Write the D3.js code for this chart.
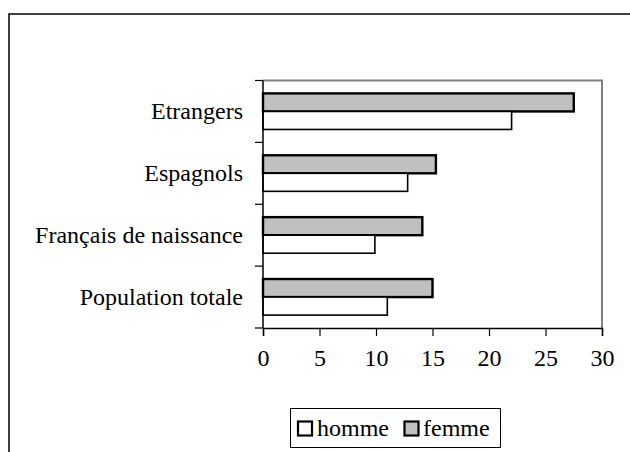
<!DOCTYPE html>
<html>
<head>
<meta charset="utf-8">
<script src="https://cdn.jsdelivr.net/npm/d3@7"></script>
<style>
  html, body { margin: 0; padding: 0; background: #fff; }
  svg { display: block; }
  text { font-family: "Liberation Serif", "Times New Roman", serif; fill: #000; }
</style>
</head>
<body>
<svg id="chart" width="630" height="452"></svg>
<script>
// Categories, top to bottom
const categories = ["Etrangers", "Espagnols", "Français de naissance", "Population totale"];
// Series (femme drawn above homme within each category)
const seriesNames = ["femme", "homme"];
const femme = [27.5, 15.3, 14.1, 15];
const homme = [22, 12.8, 9.9, 11];
const xTicks = [0, 5, 10, 15, 20, 25, 30];

const fills = { homme: "#ffffff", femme: "#c0c0c0" };
const strokeW = { homme: 1.6, femme: 2.4 };
const FONT = 24;

const svg = d3.select("#chart");

// Outer chart frame (runs past the right and bottom edges)
svg.append("rect")
  .attr("x", 9).attr("y", 14)
  .attr("width", 700).attr("height", 500)
  .attr("fill", "#fff").attr("stroke", "#000").attr("stroke-width", 1.5);

const plot = { left: 263, top: 80.5, right: 602, bottom: 328 };

const x = d3.scaleLinear().domain([0, 30]).range([plot.left, plot.right]);
const y0 = d3.scaleBand().domain(categories)
  .range([plot.top, plot.bottom])
  .paddingInner(0.417).paddingOuter(0.2085);
const y1 = d3.scaleBand().domain(seriesNames).range([0, y0.bandwidth()]);

const data = categories.map((c, i) => ({ cat: c, femme: femme[i], homme: homme[i] }));

// Plot-area border: grey top and right edges
svg.append("path")
  .attr("d", `M${plot.left},${plot.top}H${plot.right}V${plot.bottom}`)
  .attr("fill", "none").attr("stroke", "#808080").attr("stroke-width", 2);

// Bars
const groups = svg.append("g").selectAll("g").data(data).join("g")
  .attr("transform", d => `translate(0,${y0(d.cat)})`);
groups.selectAll("rect")
  .data(d => seriesNames.map(s => ({ s, v: d[s] })))
  .join("rect")
  .attr("x", x(0))
  .attr("y", d => y1(d.s))
  .attr("width", d => x(d.v) - x(0))
  .attr("height", y1.bandwidth())
  .attr("fill", d => fills[d.s])
  .attr("stroke", "#000")
  .attr("stroke-width", d => strokeW[d.s]);

// Category axis: tick marks at band boundaries
const boundaries = d3.range(categories.length + 1).map(i => plot.top + i * y0.step());
const yAxisG = svg.append("g");
yAxisG.append("line")
  .attr("x1", plot.left).attr("x2", plot.left)
  .attr("y1", plot.top).attr("y2", plot.bottom)
  .attr("stroke", "#000").attr("stroke-width", 1.5);
yAxisG.selectAll(".tk").data(boundaries).join("line")
  .attr("x1", plot.left - 8).attr("x2", plot.left)
  .attr("y1", d => d).attr("y2", d => d)
  .attr("stroke", "#000").attr("stroke-width", 1.2);
yAxisG.selectAll("text").data(categories).join("text")
  .attr("x", plot.left - 20)
  .attr("y", d => y0(d) + y0.bandwidth() / 2 + 8)
  .attr("text-anchor", "end")
  .attr("font-size", FONT)
  .text(d => d);

// Value axis
const xAxis = d3.axisBottom(x).tickValues(xTicks).tickSize(8).tickPadding(13).tickFormat(d3.format("d"));
const xg = svg.append("g").attr("transform", `translate(0,${plot.bottom})`).call(xAxis);
xg.select(".domain").attr("stroke", "#000").attr("stroke-width", 1.5);
xg.selectAll(".tick line").attr("stroke", "#000").attr("stroke-width", 1.2);
xg.selectAll(".tick text").attr("font-size", FONT).attr("font-family", "Liberation Serif, serif").attr("fill", "#000");

// Legend
const lg = svg.append("g");
lg.append("rect")
  .attr("x", 290.5).attr("y", 408.5).attr("width", 210).attr("height", 39)
  .attr("fill", "#fff").attr("stroke", "#000").attr("stroke-width", 1);
const legendItems = [
  { s: "homme", sx: 298, tx: 317 },
  { s: "femme", sx: 404.5, tx: 423 }
];
legendItems.forEach(it => {
  lg.append("rect")
    .attr("x", it.sx).attr("y", 421.5).attr("width", 14).attr("height", 14)
    .attr("fill", fills[it.s]).attr("stroke", "#000").attr("stroke-width", 2.2);
  lg.append("text")
    .attr("x", it.tx).attr("y", 435.5)
    .attr("font-size", FONT)
    .text(it.s);
});
</script>
</body>
</html>
